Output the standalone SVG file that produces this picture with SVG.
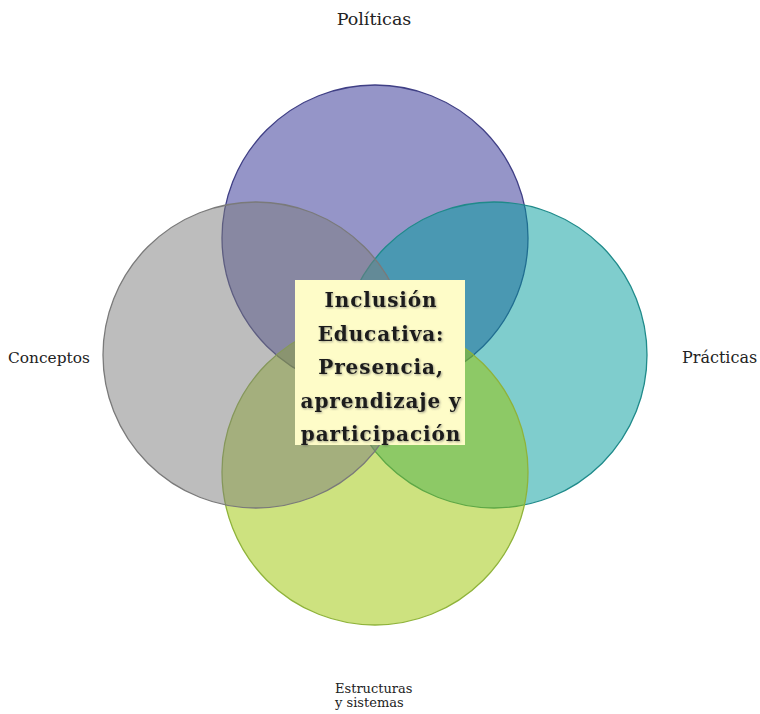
<svg xmlns="http://www.w3.org/2000/svg" width="760" height="714" viewBox="0 0 760 714">
  <defs>
    <style>
      .circ { fill-opacity: 0.5; stroke-width: 1.3; }
      .lbl { font-family: "DejaVu Serif", "Liberation Serif", serif; fill: #222; }
      .ctr { font-family: "DejaVu Serif", "Liberation Serif", serif; font-weight: bold; font-size: 20px; fill: #1a1a1a; text-anchor: middle; letter-spacing: 0.9px; }
    </style>
    <filter id="shadow" x="-10%" y="-30%" width="120%" height="160%">
      <feDropShadow dx="1" dy="1" stdDeviation="0.8" flood-color="#555" flood-opacity="0.55"/>
    </filter>
  </defs>
  <rect width="760" height="714" fill="#ffffff"/>
  <g id="politicas">
    <circle class="circ" cx="375" cy="238" r="153" fill="#2b2b91" stroke="#3f3f85"/>
  </g>
  <g id="practicas">
    <circle class="circ" cx="494" cy="355" r="153" fill="#009b9b" stroke="#1f8a8a"/>
  </g>
  <g id="estructuras">
    <circle class="circ" cx="375" cy="472" r="153" fill="#9bc500" stroke="#8fb33a"/>
  </g>
  <g id="conceptos">
    <circle class="circ" cx="256" cy="355" r="153" fill="#7b7b7b" stroke="#7a7a7a"/>
  </g>
  <g id="centro">
    <rect x="295" y="280" width="170" height="165" fill="#fefcc8"/>
    <g filter="url(#shadow)">
      <text class="ctr" x="381" y="307">Inclusión</text>
      <text class="ctr" x="381" y="340.5">Educativa:</text>
      <text class="ctr" x="381" y="374">Presencia,</text>
      <text class="ctr" x="381" y="407.5">aprendizaje y</text>
      <text class="ctr" x="381" y="441">participación</text>
    </g>
  </g>
  <g id="labels">
    <text class="lbl" x="374" y="25" font-size="17.5" text-anchor="middle">Políticas</text>
    <text class="lbl" x="8" y="363" font-size="15.4">Conceptos</text>
    <text class="lbl" x="682" y="363" font-size="16">Prácticas</text>
    <text class="lbl" x="335" y="693" font-size="13">Estructuras</text>
    <text class="lbl" x="335" y="707" font-size="13">y sistemas</text>
  </g>
  <g id="connectors"/>
</svg>
